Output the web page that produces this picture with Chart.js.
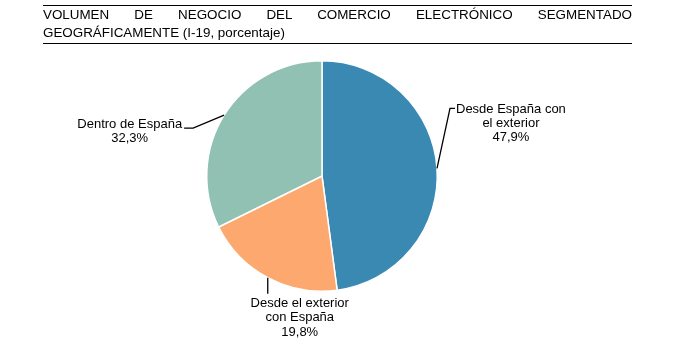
<!DOCTYPE html>
<html>
<head>
<meta charset="utf-8">
<script src="https://cdn.jsdelivr.net/npm/chart.js@4/dist/chart.umd.min.js"></script>
<style>
  html, body { margin: 0; padding: 0; background: #fff; }
  body { width: 675px; height: 359px; position: relative; overflow: hidden; font-family: "Liberation Sans", Arial, sans-serif; }
  #title {
    position: absolute; left: 43px; top: 5px; width: 589px;
    border-top: 1px solid #000; border-bottom: 1px solid #000;
    font-size: 13.4px; line-height: 18px; color: #000;
    padding: 0 0 1px 0; z-index: 2;
  }
  #title .l1 { text-align: justify; text-align-last: justify; }
  #wrap { position: absolute; left: 0; top: 0; width: 675px; height: 359px; }
</style>
</head>
<body>
<div id="title">
  <div class="l1">VOLUMEN DE NEGOCIO DEL COMERCIO ELECTRÓNICO SEGMENTADO</div>
  <div>GEOGRÁFICAMENTE (I-19, porcentaje)</div>
</div>
<div id="wrap"><canvas id="pie" width="675" height="359"></canvas></div>
<script>
const categories = [
  ['Desde España con', 'el exterior'],
  ['Desde el exterior', 'con España'],
  ['Dentro de España']
];
const shares = [47.9, 19.8, 32.3];
const sliceColors = ['#3a89b3', '#fca86f', '#91c1b3'];

// leader line bends (offsets from the slice edge) and where the text sits
const labelLayout = [
  { bends: [[13, -60], [18, -60]], side: 'right' },
  { bends: [[0, 16]], side: 'below', shift: 32 },
  { bends: [[-31, 13], [-40, 13]], side: 'left' }
];

const leaderLabels = {
  id: 'leaderLabels',
  afterDatasetsDraw(chart) {
    const ctx = chart.ctx;
    const arcs = chart.getDatasetMeta(0).data;
    ctx.save();
    ctx.font = '13px "Liberation Sans", Arial, sans-serif';
    ctx.fillStyle = '#000';
    ctx.strokeStyle = '#000';
    ctx.lineWidth = 1.3;
    arcs.forEach((arc, i) => {
      const mid = (arc.startAngle + arc.endAngle) / 2;
      const ax = arc.x + Math.cos(mid) * arc.outerRadius;
      const ay = arc.y + Math.sin(mid) * arc.outerRadius;
      const lay = labelLayout[i];
      ctx.beginPath();
      ctx.moveTo(ax, ay);
      let ex = ax, ey = ay;
      lay.bends.forEach(b => { ex = ax + b[0]; ey = ay + b[1]; ctx.lineTo(ex, ey); });
      ctx.stroke();
      const lines = categories[i].concat([shares[i].toFixed(1).replace('.', ',') + '%']);
      const w = Math.max(...lines.map(t => ctx.measureText(t).width));
      ctx.textAlign = 'center';
      ctx.textBaseline = 'alphabetic';
      let cx, by, lh = 14;
      if (lay.side === 'right') { cx = ex + 1 + w / 2; by = ey + 5; }
      else if (lay.side === 'left') { cx = ex - 2 - w / 2; by = ey; }
      else { cx = ex + lay.shift; by = ey + 13; lh = 14.5; }
      lines.forEach((t, k) => ctx.fillText(t, cx, by + k * lh));
    });
    ctx.restore();
  }
};

new Chart(document.getElementById('pie'), {
  type: 'pie',
  data: {
    labels: categories.map(c => c.join(' ')),
    datasets: [{
      data: shares,
      backgroundColor: sliceColors,
      borderColor: '#fff',
      borderWidth: 1.5
    }]
  },
  options: {
    responsive: false,
    animation: false,
    layout: { padding: { top: 60, bottom: 67, left: 0, right: 31 } },
    plugins: { legend: { display: false }, tooltip: { enabled: false } }
  },
  plugins: [leaderLabels]
});
</script>
</body>
</html>
